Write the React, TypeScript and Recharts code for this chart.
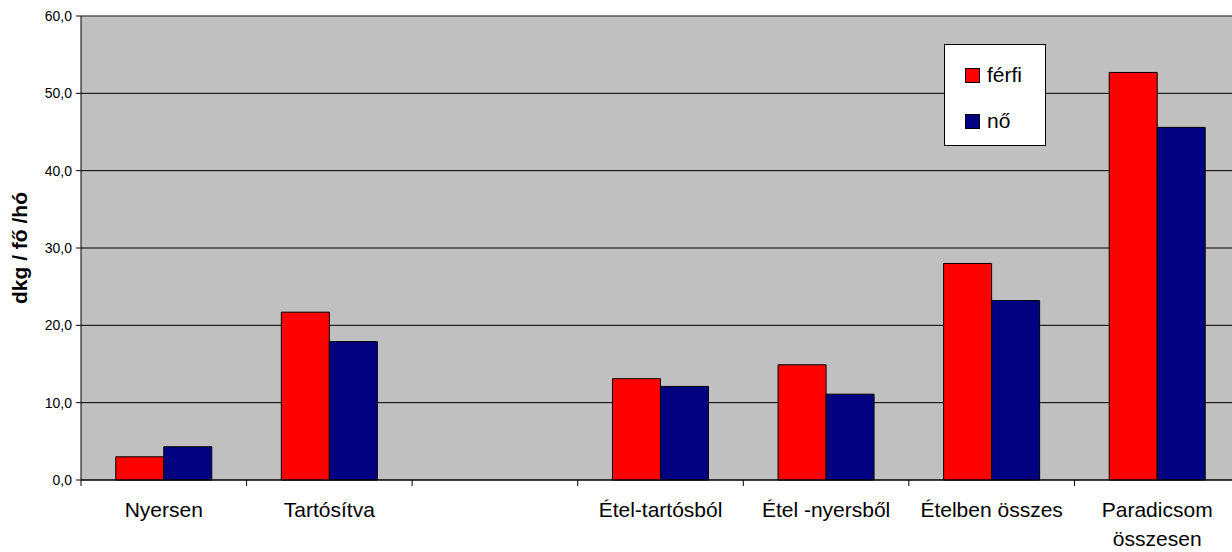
import { BarChart, Bar, XAxis, YAxis, CartesianGrid, ReferenceLine } from 'recharts';

const categories = ['Nyersen', 'Tartósítva', '', 'Étel-tartósból', 'Étel -nyersből', 'Ételben összes', 'Paradicsom\nösszesen'];
const ferfi = [3.0, 21.7, null, 13.1, 14.9, 28.0, 52.7];
const no = [4.3, 17.9, null, 12.1, 11.1, 23.2, 45.6];
const yTicks = [0, 10, 20, 30, 40, 50, 60];
const series = [
  { key: 'ferfi', name: 'férfi', color: '#FF0000' },
  { key: 'no', name: 'nő', color: '#000080' },
];

const data = categories.map((name, i) => ({ name, ferfi: ferfi[i], no: no[i] }));

const FONT = '"Liberation Sans", Arial, sans-serif';
const CHART_W = 1240; // plot runs a little past the right edge of the picture
const PLOT_LEFT = 81;
const SLOT = (CHART_W - PLOT_LEFT) / categories.length;

const XTick = (props: any) => {
  const { x, y, payload } = props;
  const lines = String(payload.value).split('\n');
  return (
    <g>
      <line x1={x - SLOT / 2} x2={x - SLOT / 2} y1={y} y2={y + 6} stroke="#000" />
      <text x={x} y={y + 37} textAnchor="middle" fontSize={21} fontFamily={FONT} fill="#000">
        {lines.map((l, i) => (
          <tspan key={i} x={x} dy={i === 0 ? 0 : 29}>{l}</tspan>
        ))}
      </text>
    </g>
  );
};

const LegendBox = () => (
  <div style={{ position: 'absolute', left: 944, top: 44, width: 100, height: 100, background: '#fff', border: '1px solid #000', fontFamily: FONT, fontSize: 21, color: '#000' }}>
    {series.map((it, i) => (
      <div key={it.key} style={{ position: 'absolute', left: 20, top: 18 + i * 46, display: 'flex', alignItems: 'center' }}>
        <span style={{ display: 'inline-block', width: 13, height: 13, background: it.color, border: '1px solid #000', marginRight: 7 }} />
        <span style={{ lineHeight: '24px' }}>{it.name}</span>
      </div>
    ))}
  </div>
);

export default function App() {
  return (
    <div style={{ position: 'absolute', left: 0, top: 0, width: 1232, height: 552, background: '#fff', overflow: 'hidden' }}>
      <BarChart
        width={CHART_W}
        height={552}
        data={data}
        margin={{ top: 16, right: 0, left: 0, bottom: 0 }}
        barCategoryGap="21%"
        barGap={0}
      >
        <CartesianGrid vertical={false} stroke="#000" fill="#C0C0C0" fillOpacity={1} />
        <ReferenceLine y={60} stroke="#808080" />
        <XAxis
          dataKey="name"
          height={72}
          tickSize={0}
          tickMargin={0}
          interval={0}
          axisLine={{ stroke: '#000' }}
          tick={<XTick />}
        />
        <YAxis
          width={PLOT_LEFT}
          domain={[0, 60]}
          ticks={yTicks}
          tickSize={5}
          tickMargin={4}
          axisLine={{ stroke: '#000' }}
          tickLine={{ stroke: '#000' }}
          tick={{ fontSize: 14, fontFamily: FONT, fill: '#000' }}
          tickFormatter={(v: number) => v.toFixed(1).replace('.', ',')}
          label={{ value: 'dkg / fő /hó', angle: -90, position: 'insideLeft', offset: 0, dx: 20, style: { fontSize: 21, fontWeight: 'bold', fontFamily: FONT, fill: '#000', textAnchor: 'middle' } }}
        />
        {series.map(s => (
          <Bar key={s.key} dataKey={s.key} name={s.name} fill={s.color} stroke="#000" strokeWidth={1} isAnimationActive={false} />
        ))}
      </BarChart>
      <LegendBox />
    </div>
  );
}
